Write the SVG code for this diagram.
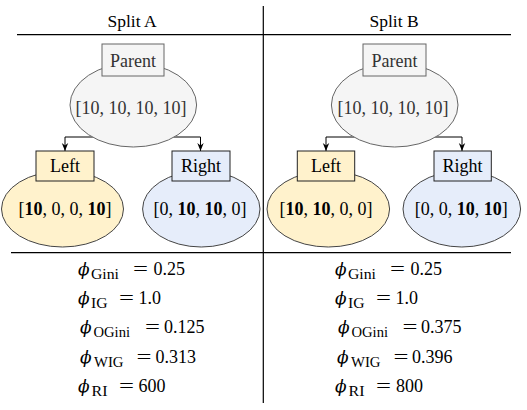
<svg xmlns="http://www.w3.org/2000/svg" width="527" height="410" viewBox="0 0 527 410">
<style>
.t{font-family:"Liberation Serif","Times New Roman",serif;font-size:18px;text-anchor:middle;fill:#000}
.hd{font-family:"Liberation Serif","Times New Roman",serif;font-size:17.5px;text-anchor:middle;fill:#000}
.gray{fill:#333}
.pbox{fill:#f5f5f5;stroke:#666;stroke-width:1}
.lbox{fill:#fff2cc;stroke:#222;stroke-width:1}
.rbox{fill:#e6edfa;stroke:#222;stroke-width:1}
.lell{fill:#fff2cc;stroke:#444;stroke-width:1}
.rell{fill:#e6edfa;stroke:#444;stroke-width:1}
.rule{stroke:#000;stroke-width:1.2;fill:none}
.edge{stroke:#000;stroke-width:1;fill:none;marker-end:url(#arr)}
.m{font-family:"Liberation Serif","Times New Roman",serif;font-size:18px;fill:#000}
.phi{font-family:"DejaVu Serif",serif;font-style:italic;font-size:17px}
.sub{font-size:14px}
</style>
<defs>
<marker id="arr" viewBox="0 0 10 10" refX="10" refY="5" markerWidth="8" markerHeight="8" markerUnits="userSpaceOnUse" orient="auto">
<path d="M0,1 L10,5 L0,9 L3,5 z" fill="#000"/>
</marker>
</defs>

<g id="rules">
<line class="rule" x1="17" y1="34.7" x2="511" y2="34.7"/>
<line class="rule" x1="11" y1="252.7" x2="511" y2="252.7"/>
<line class="rule" x1="263.3" y1="6" x2="263.3" y2="403"/>
</g>

<g id="headers">
<text class="hd" x="132" y="27">Split A</text>
<text class="hd" x="394" y="27">Split B</text>
</g>

<g id="connectors">
<path class="edge" d="M100,137 H65 V151"/>
<path class="edge" d="M166,137 H200.5 V151"/>
<path class="edge" d="M361,137 H326 V151"/>
<path class="edge" d="M428,137 H462 V151"/>
</g>

<g id="parentA">
<ellipse class="pbox" cx="133.3" cy="105" rx="63.3" ry="42"/>
<rect class="pbox" x="102" y="44" width="62" height="32"/>
<text class="t gray" x="133" y="66.5">Parent</text>
<text class="t gray" x="131" y="113.5">[10, 10, 10, 10]</text>
</g>
<g id="leftA">
<ellipse class="lell" cx="62.5" cy="209" rx="61" ry="38"/>
<rect class="lbox" x="36" y="151" width="58" height="30"/>
<text class="t" x="65" y="171.5">Left</text>
<text class="t" x="65" y="215"><tspan>[</tspan><tspan font-weight="bold">10</tspan><tspan>, 0, 0, </tspan><tspan font-weight="bold">10</tspan><tspan>]</tspan></text>
</g>
<g id="rightA">
<ellipse class="rell" cx="201.3" cy="209" rx="58.7" ry="38"/>
<rect class="rbox" x="172" y="151" width="58" height="30"/>
<text class="t" x="201" y="171.5">Right</text>
<text class="t" x="200" y="215"><tspan>[0, </tspan><tspan font-weight="bold">10</tspan><tspan>, </tspan><tspan font-weight="bold">10</tspan><tspan>, 0]</tspan></text>
</g>

<g id="parentB">
<ellipse class="pbox" cx="394.7" cy="105" rx="63.3" ry="42"/>
<rect class="pbox" x="363" y="44" width="63" height="32"/>
<text class="t gray" x="394.5" y="66.5">Parent</text>
<text class="t gray" x="393" y="113.5">[10, 10, 10, 10]</text>
</g>
<g id="leftB">
<ellipse class="lell" cx="328.3" cy="209" rx="61.3" ry="38"/>
<rect class="lbox" x="297.3" y="151" width="57.4" height="30"/>
<text class="t" x="326" y="171.5">Left</text>
<text class="t" x="326" y="215"><tspan>[</tspan><tspan font-weight="bold">10</tspan><tspan>, </tspan><tspan font-weight="bold">10</tspan><tspan>, 0, 0]</tspan></text>
</g>
<g id="rightB">
<ellipse class="rell" cx="461.8" cy="209" rx="58.8" ry="38"/>
<rect class="rbox" x="434" y="151" width="57.3" height="30"/>
<text class="t" x="462.5" y="171.5">Right</text>
<text class="t" x="461.3" y="215"><tspan>[0, 0, </tspan><tspan font-weight="bold">10</tspan><tspan>, </tspan><tspan font-weight="bold">10</tspan><tspan>]</tspan></text>
</g>

<g id="metricsA">
<text class="m" y="274.7"><tspan class="phi" x="78">ϕ</tspan><tspan class="sub" x="91" y="278.7" textLength="28" lengthAdjust="spacingAndGlyphs">Gini</tspan><tspan x="133" y="274.7" textLength="15" lengthAdjust="spacingAndGlyphs">=</tspan><tspan x="153.5">0.25</tspan></text>
<text class="m" y="304"><tspan class="phi" x="78">ϕ</tspan><tspan class="sub" x="91" y="308" textLength="16.5" lengthAdjust="spacingAndGlyphs">IG</tspan><tspan x="119" y="304" textLength="15" lengthAdjust="spacingAndGlyphs">=</tspan><tspan x="138.5">1.0</tspan></text>
<text class="m" y="333.3"><tspan class="phi" x="80">ϕ</tspan><tspan class="sub" x="93.5" y="337.3" textLength="36.5" lengthAdjust="spacingAndGlyphs">OGini</tspan><tspan x="145" y="333.3" textLength="15" lengthAdjust="spacingAndGlyphs">=</tspan><tspan x="164">0.125</tspan></text>
<text class="m" y="362.6"><tspan class="phi" x="80">ϕ</tspan><tspan class="sub" x="94" y="366.6" textLength="29.5" lengthAdjust="spacingAndGlyphs">WIG</tspan><tspan x="136.5" y="362.6" textLength="15" lengthAdjust="spacingAndGlyphs">=</tspan><tspan x="155.5">0.313</tspan></text>
<text class="m" y="392"><tspan class="phi" x="78">ϕ</tspan><tspan class="sub" x="91.5" y="396" textLength="16" lengthAdjust="spacingAndGlyphs">RI</tspan><tspan x="119" y="392" textLength="15" lengthAdjust="spacingAndGlyphs">=</tspan><tspan x="138.5">600</tspan></text>
</g>

<g id="metricsB">
<text class="m" y="274.7"><tspan class="phi" x="335">ϕ</tspan><tspan class="sub" x="348" y="278.7" textLength="28" lengthAdjust="spacingAndGlyphs">Gini</tspan><tspan x="390" y="274.7" textLength="15" lengthAdjust="spacingAndGlyphs">=</tspan><tspan x="410.5">0.25</tspan></text>
<text class="m" y="304"><tspan class="phi" x="335">ϕ</tspan><tspan class="sub" x="348" y="308" textLength="16.5" lengthAdjust="spacingAndGlyphs">IG</tspan><tspan x="376" y="304" textLength="15" lengthAdjust="spacingAndGlyphs">=</tspan><tspan x="395.5">1.0</tspan></text>
<text class="m" y="333.3"><tspan class="phi" x="338">ϕ</tspan><tspan class="sub" x="351.5" y="337.3" textLength="36.5" lengthAdjust="spacingAndGlyphs">OGini</tspan><tspan x="402.5" y="333.3" textLength="15" lengthAdjust="spacingAndGlyphs">=</tspan><tspan x="421">0.375</tspan></text>
<text class="m" y="362.6"><tspan class="phi" x="337">ϕ</tspan><tspan class="sub" x="351" y="366.6" textLength="29.5" lengthAdjust="spacingAndGlyphs">WIG</tspan><tspan x="393.5" y="362.6" textLength="15" lengthAdjust="spacingAndGlyphs">=</tspan><tspan x="412">0.396</tspan></text>
<text class="m" y="392"><tspan class="phi" x="335">ϕ</tspan><tspan class="sub" x="348.5" y="396" textLength="16" lengthAdjust="spacingAndGlyphs">RI</tspan><tspan x="376" y="392" textLength="15" lengthAdjust="spacingAndGlyphs">=</tspan><tspan x="396">800</tspan></text>
</g>
</svg>
